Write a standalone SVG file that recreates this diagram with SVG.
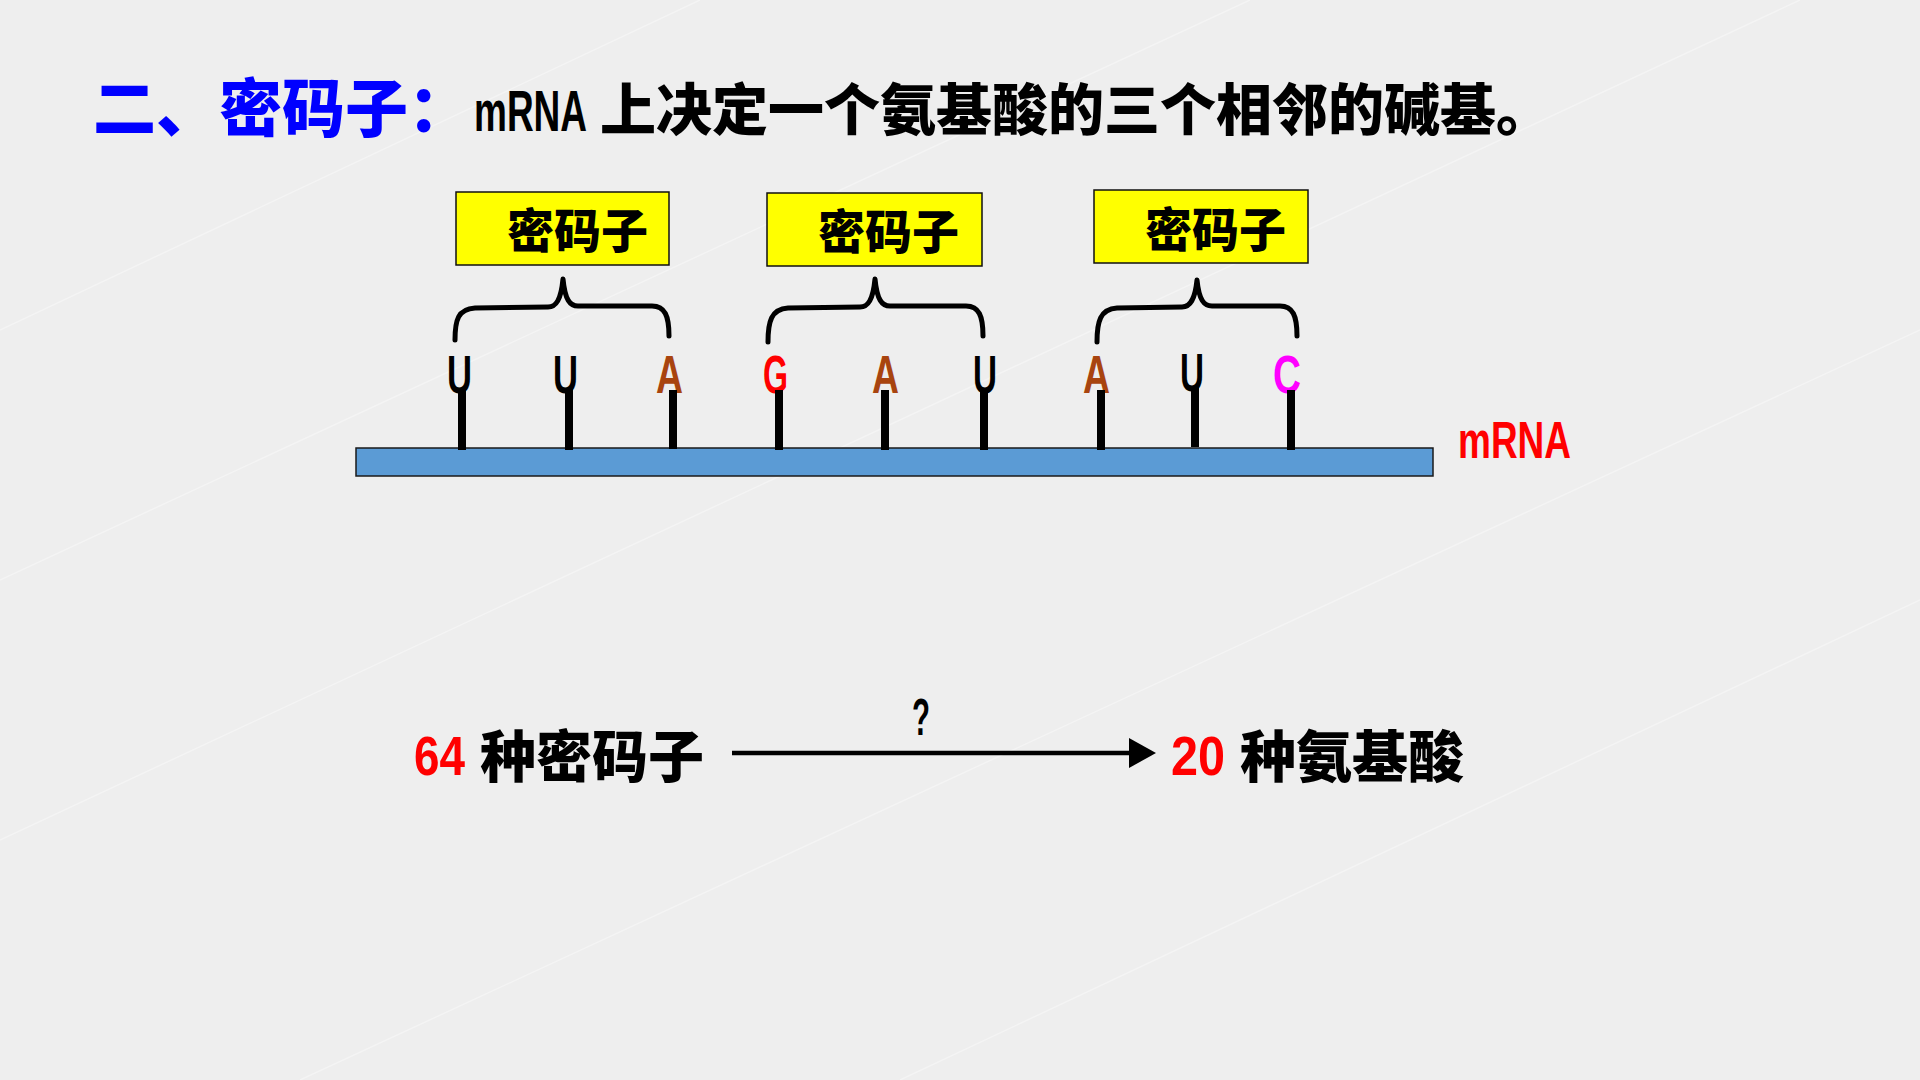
<svg xmlns="http://www.w3.org/2000/svg" width="1920" height="1080" viewBox="0 0 1920 1080">
<defs>
<style>
.cjk{font-family:"Noto Sans CJK SC","Noto Sans CJK JP",sans-serif;font-weight:900}
.lat{font-family:"Liberation Sans","Noto Sans",sans-serif;font-weight:700}
.box{fill:#ffff00;stroke:#111;stroke-width:1.5}
.brace{fill:none;stroke:#000;stroke-width:5;stroke-linecap:round;stroke-linejoin:round}
.stem{stroke:#000;stroke-width:8}
.base{font-size:53px}
.bg{stroke:#ffffff;stroke-opacity:0.35;stroke-width:1.5;fill:none}
</style>
<marker id="arrow" viewBox="0 0 27 30" refX="0" refY="15" markerWidth="27" markerHeight="30" markerUnits="userSpaceOnUse" orient="auto">
<path d="M0,0 L27,15 L0,30 Z" fill="#000"/>
</marker>
</defs>
<rect width="1920" height="1080" fill="#eeeeee"/>
<g id="background-lines">
<path class="bg" d="M0,330 L700,0"/>
<path class="bg" d="M0,580 L1250,0"/>
<path class="bg" d="M300,1080 L1920,330"/>
<path class="bg" d="M900,1080 L1920,600"/>
<path class="bg" d="M0,840 L1800,0"/>
</g>
<g id="title">
<text class="cjk" x="93" y="131" font-size="63" fill="#0000ff">二、密码子：</text>
<text class="lat" transform="translate(474,131) scale(0.638,1)" font-size="58" fill="#000">mRNA</text>
<text class="cjk" x="600" y="130" font-size="56" fill="#000">上决定一个氨基酸的三个相邻的碱基。</text>
</g>
<g id="codon-box-1">
<rect class="box" x="456" y="192" width="213" height="73"/>
<text class="cjk" x="507" y="248" font-size="47" fill="#000">密码子</text>
</g>
<g id="codon-box-2">
<rect class="box" x="767" y="193" width="215" height="73"/>
<text class="cjk" x="818" y="249" font-size="47" fill="#000">密码子</text>
</g>
<g id="codon-box-3">
<rect class="box" x="1094" y="190" width="214" height="73"/>
<text class="cjk" x="1145" y="247" font-size="47" fill="#000">密码子</text>
</g>
<g id="braces">
<path class="brace" d="M455,340 C455,320 458,309 475,308 L548,307 C556,307 561,300 563,279 C565,300 570,306 578,306 L652,306 C665,306 669,316 669,336"/>
<path class="brace" d="M768,342 C768,322 771,309 788,308 L860,307 C868,307 873,300 875,279 C877,300 882,306 890,306 L966,306 C979,306 983,316 983,336"/>
<path class="brace" d="M1097,342 C1097,322 1100,309 1117,308 L1182,307 C1190,307 1195,300 1197,280 C1199,300 1204,306 1212,306 L1280,306 C1293,306 1297,316 1297,336"/>
</g>
<g id="mrna">
<rect x="356" y="448" width="1077" height="28" fill="#5b9bd5" stroke="#1a1a1a" stroke-width="1.5"/>
<text class="lat" x="1458" y="458" font-size="52" fill="#ff0000" textLength="113" lengthAdjust="spacingAndGlyphs">mRNA</text>
</g>
<g id="bases">
<text class="lat base" x="447" y="393" fill="#000" textLength="25" lengthAdjust="spacingAndGlyphs">U</text>
<text class="lat base" x="553" y="393" fill="#000" textLength="25" lengthAdjust="spacingAndGlyphs">U</text>
<text class="lat base" x="656" y="393" fill="#a8440f" textLength="27" lengthAdjust="spacingAndGlyphs">A</text>
<text class="lat base" x="763" y="393" fill="#ff0000" textLength="25" lengthAdjust="spacingAndGlyphs">G</text>
<text class="lat base" x="872" y="393" fill="#a8440f" textLength="27" lengthAdjust="spacingAndGlyphs">A</text>
<text class="lat base" x="973" y="393" fill="#000" textLength="24" lengthAdjust="spacingAndGlyphs">U</text>
<text class="lat base" x="1083" y="393" fill="#a8440f" textLength="27" lengthAdjust="spacingAndGlyphs">A</text>
<text class="lat base" x="1180" y="391" fill="#000" textLength="24" lengthAdjust="spacingAndGlyphs">U</text>
<text class="lat base" x="1273" y="393" fill="#ff00ff" textLength="28" lengthAdjust="spacingAndGlyphs">C</text>
<line class="stem" x1="462" y1="388" x2="462" y2="450"/>
<line class="stem" x1="569" y1="388" x2="569" y2="450"/>
<line class="stem" x1="673" y1="390" x2="673" y2="449"/>
<line class="stem" x1="779" y1="390" x2="779" y2="450"/>
<line class="stem" x1="885" y1="390" x2="885" y2="450"/>
<line class="stem" x1="984" y1="388" x2="984" y2="450"/>
<line class="stem" x1="1101" y1="390" x2="1101" y2="450"/>
<line class="stem" x1="1195" y1="386" x2="1195" y2="447"/>
<line class="stem" x1="1291" y1="390" x2="1291" y2="450"/>
</g>
<g id="codons-64">
<text class="lat" x="414" y="775" font-size="56" fill="#ff0000" textLength="51" lengthAdjust="spacingAndGlyphs">64</text>
<text class="cjk" x="480" y="777" font-size="56" fill="#000">种密码子</text>
</g>
<g id="amino-acids-20">
<text class="lat" x="1171" y="775" font-size="56" fill="#ff0000" textLength="54" lengthAdjust="spacingAndGlyphs">20</text>
<text class="cjk" x="1240" y="777" font-size="56" fill="#000">种氨基酸</text>
</g>
<g id="connectors">
<line x1="732" y1="753" x2="1129" y2="753" stroke="#000" stroke-width="4.5" marker-end="url(#arrow)"/>
<text class="lat" x="921" y="735" font-size="52" fill="#000" text-anchor="middle" textLength="18" lengthAdjust="spacingAndGlyphs">?</text>
</g>
</svg>
